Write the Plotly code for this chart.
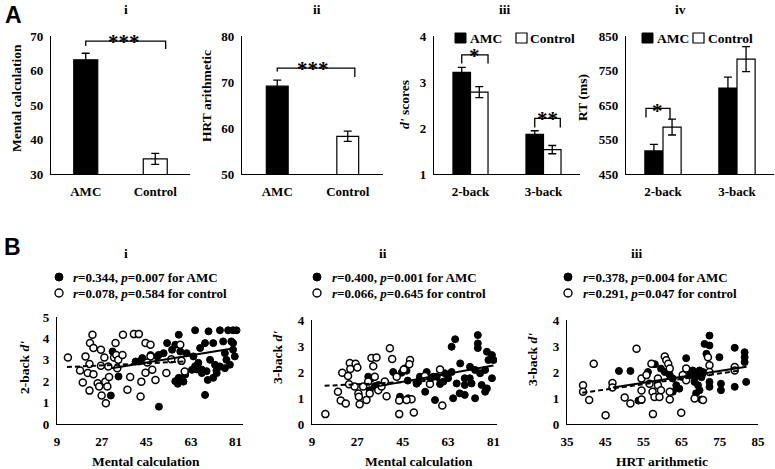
import plotly.graph_objects as go

W, H = 775, 469
def px(x): return x / W
def py(y): return 1 - y / H

SERIF = "Liberation Serif, Times New Roman, serif"
SANS = "Liberation Sans, Arial, sans-serif"

# ---------------- data ----------------
groups = ["AMC", "Control"]
tasks = ["2-back", "3-back"]
mental_calc_mean = [63.1, 34.4]
mental_calc_sem = [1.9, 1.6]
hrt_mean = [69.1, 58.2]
hrt_sem = [1.3, 1.1]
dprime_amc = [3.21, 1.86]
dprime_amc_sem = [0.11, 0.08]
dprime_ctrl = [2.78, 1.53]
dprime_ctrl_sem = [0.12, 0.09]
rt_amc = [517, 699]
rt_amc_sem = [19, 32]
rt_ctrl = [586, 783]
rt_ctrl_sem = [23, 36]

b1_amc_x = [50.1, 68.7, 58.1, 64.7, 53.4, 56.7, 70.1, 74.7, 78, 80, 81.4, 68.7, 72, 76, 79.3, 52, 58.7, 61.3, 64,
            76.7, 80, 49.4, 46.7, 66, 70.7, 72.7, 74.7, 77.3, 65.3, 69.3, 72, 76.7, 78.7, 58.1, 60.7, 56.7, 64.7,
            67.3, 73.3, 80, 80.7, 30.7, 31.4, 33.8, 40.7, 43.4, 42, 50, 57.7, 60, 55.4, 63.4, 67.4, 69.8, 73.4, 66.7]
b1_amc_y = [0.81, 1.36, 4.17, 4.38, 3.78, 3.7, 4.33, 4.38, 4.38, 4.38, 4.38, 3.78, 3.78, 3.86, 3.86, 3.31, 3.39, 3.31,
            3.16, 3.31, 3.47, 3.16, 3.22, 2.86, 3.0, 2.77, 2.69, 3.0, 2.55, 2.47, 2.16, 2.61, 2.77, 2.16, 2.31, 2.0,
            2.7, 2.55, 2.5, 3.78, 3.16, 1.33, 3.39, 2.22, 2.92, 3.08, 2.92, 3.23, 1.88, 1.98, 3.47, 2.53, 2.38, 2.06,
            2.38, 3.55]
b1_ctrl_x = [13.4, 18.3, 19.4, 20.5, 21.4, 22.1, 22.3, 23.3, 23.7, 22.1, 23.7, 25.4, 26, 26.7, 26.7, 27, 28.1, 28.5,
             28.7, 29.3, 29.7, 32, 32.6, 32.9, 33.3, 33.7, 35.4, 35.6, 37.4, 38.5, 40, 42, 43, 42.7, 44.7, 44.7, 46.7,
             46.7, 47.4, 48.7, 45.4, 53.1, 55.1, 58.7, 60.5, 59.2, 30]
b1_ctrl_y = [3.11, 2.5, 1.94, 3.16, 2.38, 2.8, 3.78, 4.17, 3.55, 1.56, 2.33, 1.9, 1.75, 3.47, 2.72, 1.33, 3.11, 1.98,
             0.97, 1.75, 2.69, 3.11, 3.78, 3.22, 2.6, 3.0, 3.22, 4.17, 1.6, 2.2, 4.2, 4.2, 1.98, 1.28, 3.78, 2.4, 3.7,
             3.16, 2.53, 2.06, 2.87, 2.38, 3.03, 3.7, 2.45, 2.95, 2.2]
b1_amc_fit_x = [31, 81]
b1_amc_fit_y = [2.6, 3.55]
b1_ctrl_fit_x = [13, 60]
b1_ctrl_fit_y = [2.66, 2.92]

b2_amc_x = [31.3, 33.9, 44.5, 46.5, 47, 43.9, 50.5, 51.8, 54.5, 53.9, 57.8, 57.2, 59.8, 61.1, 65.8, 64.4, 74.8, 74.8,
            74.8, 78.4, 80.4, 79, 81, 67.8, 71.7, 73.7, 75.7, 77.7, 64.4, 61.7, 63, 69.6, 72.3, 76.3, 78.4, 69.6, 67.6,
            65, 69.6, 73.7, 77.7, 58.5, 55, 51.2, 66.4, 80.4, 71.6, 32.6, 35.3, 41.2, 45.9, 47.2, 31.9]
b2_amc_y = [1.82, 1.44, 1.97, 2.05, 1.67, 1.05, 1.55, 1.82, 2.0, 1.24, 0.92, 1.82, 1.54, 1.63, 3.26, 2.97, 3.42, 3.1,
            2.92, 2.78, 2.65, 2.46, 2.46, 2.33, 2.2, 2.08, 1.95, 2.08, 2.0, 1.95, 1.76, 1.76, 1.56, 1.5, 1.37, 1.5, 1.18,
            0.99, 1.12, 0.99, 1.24, 1.82, 1.82, 1.63, 1.56, 1.76, 1.76, 1.76, 1.5, 2.0, 2.14, 0.99, 1.3]
b2_ctrl_x = [14.3, 19.3, 20.4, 21, 22.4, 23.3, 23.7, 24, 24.2, 26.3, 27, 27.4, 27.6, 27.9, 29.3, 30.6, 31.9, 32.6, 33.3,
             33.9, 34.6, 35.3, 36.6, 37.9, 38.6, 39.9, 40.8, 42.6, 43.6, 43.6, 45.4, 47.9, 47.6, 48.5, 49.4, 46.5, 53.8,
             55.8, 59.8, 60.7, 25.9, 31.3]
b2_ctrl_y = [0.38, 1.24, 0.9, 1.97, 0.79, 1.85, 1.53, 2.35, 2.12, 2.32, 2.17, 1.17, 1.05, 0.76, 1.44, 0.92, 1.17, 2.54,
             2.22, 1.82, 2.56, 1.3, 1.44, 1.63, 1.07, 2.91, 2.5, 1.82, 0.38, 0.9, 2.1, 2.46, 2.3, 0.95, 0.44, 0.92, 1.85,
             1.54, 2.1, 0.71, 1.44, 1.63]
b2_amc_fit_x = [31, 81]
b2_amc_fit_y = [1.38, 2.25]
b2_ctrl_fit_x = [14, 60]
b2_ctrl_fit_y = [1.47, 1.68]

b3_amc_x = [48.6, 51.6, 56.2, 59.6, 60.6, 61.9, 62.7, 63.6, 64.4, 62.7, 53.7, 54.5, 66.2, 67.9, 68.4, 68.4, 68.8, 69.3,
            69.7, 70.2, 70.6, 69.7, 68.8, 70.2, 71, 72.3, 72.3, 72.3, 72.3, 74.9, 75.3, 75.3, 78.9, 78.9, 81.5, 81.5,
            81.5, 81.9, 71.5, 65.3, 67.1, 58]
b3_amc_y = [2.04, 2.04, 2.0, 2.13, 2.0, 1.88, 1.75, 1.49, 1.36, 1.24, 0.9, 0.92, 2.53, 2.06, 1.8, 1.62, 1.94, 1.49,
            2.06, 1.8, 2.0, 1.3, 1.18, 0.94, 3.08, 3.4, 3.02, 1.62, 1.43, 2.57, 1.55, 1.3, 2.93, 1.43, 2.76, 2.57,
            2.38, 1.62, 2.7, 1.8, 1.88, 2.3]
b3_ctrl_x = [39.2, 39.2, 40.8, 42, 45.1, 46.9, 46.9, 50.1, 51.6, 53.2, 54.5, 54.5, 54.5, 55.8, 56.6, 57.1, 57.4, 57.5,
             57.9, 58.8, 58.8, 59.2, 60.6, 61, 61.5, 61.9, 61.9, 61.9, 64.9, 65.3, 66.2, 66.2, 68.4, 70.6, 71.9, 72.3,
             72.3, 78.9, 78.9, 59.6]
b3_ctrl_y = [1.49, 1.24, 0.92, 2.32, 0.34, 1.58, 1.4, 1.02, 0.79, 2.89, 1.75, 1.29, 0.94, 1.88, 1.55, 2.32, 1.24, 0.38,
             1.04, 1.75, 1.49, 1.04, 2.6, 2.45, 2.32, 2.13, 1.24, 0.94, 0.43, 1.88, 2.13, 1.68, 0.98, 0.92, 2.57, 2.26,
             2.0, 2.19, 2.06, 1.3]
b3_amc_fit_x = [47, 82]
b3_amc_fit_y = [1.4, 2.2]
b3_ctrl_fit_x = [39, 80]
b3_ctrl_fit_y = [1.2, 2.05]

# ---------------- figure ----------------
fig = go.Figure()
tickfont = dict(family=SERIF, size=13, color="black", weight="bold")
LINE = dict(color="black", width=1.2)


def err(arr):
    return dict(type="data", array=arr, color="black", thickness=1.3, width=4)

# A-i
fig.add_trace(go.Bar(x=[0, 1], y=mental_calc_mean, width=0.345, marker=dict(color=["black", "white"], line=LINE),
                     error_y=err(mental_calc_sem), xaxis="x", yaxis="y", showlegend=False))
# A-ii
fig.add_trace(go.Bar(x=[0, 1], y=hrt_mean, width=0.31, marker=dict(color=["black", "white"], line=LINE),
                     error_y=err(hrt_sem), xaxis="x2", yaxis="y2", showlegend=False))
# A-iii
fig.add_trace(go.Bar(x=[0, 1], y=dprime_amc, width=0.24, offset=-0.24, marker=dict(color="black", line=LINE),
                     error_y=err(dprime_amc_sem), xaxis="x3", yaxis="y3", showlegend=False))
fig.add_trace(go.Bar(x=[0, 1], y=dprime_ctrl, width=0.24, offset=0, marker=dict(color="white", line=LINE),
                     error_y=err(dprime_ctrl_sem), xaxis="x3", yaxis="y3", showlegend=False))
# A-iv
fig.add_trace(go.Bar(x=[0, 1], y=rt_amc, width=0.245, offset=-0.245, marker=dict(color="black", line=LINE),
                     error_y=err(rt_amc_sem), xaxis="x4", yaxis="y4", showlegend=False))
fig.add_trace(go.Bar(x=[0, 1], y=rt_ctrl, width=0.245, offset=0, marker=dict(color="white", line=LINE),
                     error_y=err(rt_ctrl_sem), xaxis="x4", yaxis="y4", showlegend=False))

# B scatter panels
for (ax, ay, cx, cy, afx, afy, cfx, cfy, xa, ya) in [
    (b1_amc_x, b1_amc_y, b1_ctrl_x, b1_ctrl_y, b1_amc_fit_x, b1_amc_fit_y, b1_ctrl_fit_x, b1_ctrl_fit_y, "x5", "y5"),
    (b2_amc_x, b2_amc_y, b2_ctrl_x, b2_ctrl_y, b2_amc_fit_x, b2_amc_fit_y, b2_ctrl_fit_x, b2_ctrl_fit_y, "x6", "y6"),
    (b3_amc_x, b3_amc_y, b3_ctrl_x, b3_ctrl_y, b3_amc_fit_x, b3_amc_fit_y, b3_ctrl_fit_x, b3_ctrl_fit_y, "x7", "y7"),
]:
    fig.add_trace(go.Scatter(x=ax, y=ay, mode="markers", xaxis=xa, yaxis=ya, showlegend=False,
                             marker=dict(size=7, color="black", line=dict(color="black", width=1))))
    fig.add_trace(go.Scatter(x=cx, y=cy, mode="markers", xaxis=xa, yaxis=ya, showlegend=False,
                             marker=dict(size=7, color="white", line=dict(color="black", width=1.5))))
    fig.add_trace(go.Scatter(x=cfx, y=cfy, mode="lines", xaxis=xa, yaxis=ya, showlegend=False,
                             line=dict(color="black", width=2, dash="5px,3px")))
    fig.add_trace(go.Scatter(x=afx, y=afy, mode="lines", xaxis=xa, yaxis=ya, showlegend=False,
                             line=dict(color="black", width=2)))


def axis(dom, rng, **kw):
    d = dict(domain=dom, range=rng, showline=True, linecolor="black", linewidth=1.2, showgrid=False,
             zeroline=False, ticks="", tickfont=tickfont, fixedrange=True, automargin=False)
    d.update(kw)
    return d

A_Y = [py(174), py(36)]
B_Y5 = [py(424), py(317)]
B_Y = [py(424), py(320)]

layout = dict(
    width=W, height=H, margin=dict(l=0, r=0, t=0, b=0, pad=0, autoexpand=False),
    paper_bgcolor="white", plot_bgcolor="white",
    barmode="overlay", showlegend=False,
    xaxis=axis([px(51), px(190)], [-0.5, 1.5], tickvals=[0, 1], ticktext=groups, anchor="y", ticklabelstandoff=5),
    yaxis=axis(A_Y, [30, 70], tickvals=[30, 40, 50, 60, 70], anchor="x", ticklabelstandoff=4),
    xaxis2=axis([px(242), px(383)], [-0.5, 1.5], tickvals=[0, 1], ticktext=groups, anchor="y2", ticklabelstandoff=5),
    yaxis2=axis(A_Y, [50, 80], tickvals=[50, 60, 70, 80], anchor="x2", ticklabelstandoff=4),
    xaxis3=axis([px(434), px(580)], [-0.5, 1.5], tickvals=[0, 1], ticktext=tasks, anchor="y3", ticklabelstandoff=5),
    yaxis3=axis(A_Y, [1, 4], tickvals=[1, 2, 3, 4], anchor="x3", ticklabelstandoff=4),
    xaxis4=axis([px(626), px(774)], [-0.5, 1.5], tickvals=[0, 1], ticktext=tasks, anchor="y4", ticklabelstandoff=5),
    yaxis4=axis(A_Y, [450, 850], tickvals=[450, 550, 650, 750, 850], anchor="x4", ticklabelstandoff=4),
    xaxis5=axis([px(57), px(243)], [9, 84], tickvals=[9, 27, 45, 63, 81], anchor="y5", ticklabelstandoff=5),
    yaxis5=axis(B_Y5, [0, 5], tickvals=[0, 1, 2, 3, 4, 5], anchor="x5", ticklabelstandoff=4),
    xaxis6=axis([px(312), px(497)], [9, 82.4], tickvals=[9, 27, 45, 63, 81], anchor="y6", ticklabelstandoff=5),
    yaxis6=axis(B_Y, [0, 4], tickvals=[0, 1, 2, 3, 4], anchor="x6", ticklabelstandoff=4),
    xaxis7=axis([px(567), px(758)], [35, 85], tickvals=[35, 45, 55, 65, 75, 85], anchor="y7", ticklabelstandoff=5),
    yaxis7=axis(B_Y, [0, 4], tickvals=[0, 1, 2, 3, 4], anchor="x7", ticklabelstandoff=4),
)
fig.update_layout(**layout)

ann = []
shapes = []


def text(x, y, t, size=12, family=SERIF, angle=0, xanchor="center", yanchor="middle", ref=("paper", "paper")):
    xx = px(x) if ref[0] == "paper" else x
    yy = py(y) if ref[1] == "paper" else y
    ann.append(dict(x=xx, y=yy, xref=ref[0], yref=ref[1], text=t, showarrow=False, textangle=angle,
                    xanchor=xanchor, yanchor=yanchor,
                    font=dict(family=family, size=size, color="black", weight="bold")))

# panel letters and titles
text(13, 15, "A", size=23, family=SANS)
text(12, 247, "B", size=23, family=SANS)
for x, t in [(126, "i"), (317, "ii"), (505, "iii"), (680, "iv")]:
    text(x, 9, t, size=13.5)
for x, t in [(126, "i"), (383, "ii"), (637, "iii")]:
    text(x, 253, t, size=13.5)

# y axis titles
text(17, 98, "Mental calculation", size=13.5, angle=-90)
text(206, 96, "HRT arithmetic", size=13.5, angle=-90)
text(404, 104, "<i>d'</i> scores", size=13.5, angle=-90)
text(583, 98, "RT (ms)", size=13.5, angle=-90)
text(24, 368, "2-back <i>d'</i>", size=13.5, angle=-90)
text(277, 358, "3-back <i>d'</i>", size=13.5, angle=-90)
text(532, 360, "3-back <i>d'</i>", size=13.5, angle=-90)
# x axis titles (B)
text(146, 461, "Mental calculation", size=13.5)
text(419, 461, "Mental calculation", size=13.5)
text(662, 461, "HRT arithmetic", size=13.5)

# bar legends (A-iii, A-iv)
for (s1, t1, s2, t2) in [(455, 468, 516, 528), (642, 655, 693, 706)]:
    shapes.append(dict(type="rect", xref="paper", yref="paper", x0=px(s1), x1=px(s1 + 11), y0=py(43), y1=py(33),
                       fillcolor="black", line=dict(color="black", width=1)))
    shapes.append(dict(type="rect", xref="paper", yref="paper", x0=px(s2), x1=px(s2 + 11), y0=py(43), y1=py(33),
                       fillcolor="white", line=dict(color="black", width=1.2)))
    text(t1, 38, "AMC", size=13.5, xanchor="left")
    text(t2, 38, "Control", size=13.5, xanchor="left")

# B legends
leg = [
    (59, 71, "<i>r</i>=0.344, <i>p</i>=0.007 for AMC", "<i>r</i>=0.078, <i>p</i>=0.584 for control"),
    (317, 330, "<i>r</i>=0.400, <i>p</i>=0.001 for AMC", "<i>r</i>=0.066, <i>p</i>=0.645 for control"),
    (568, 581, "<i>r</i>=0.378, <i>p</i>=0.004 for AMC", "<i>r</i>=0.291, <i>p</i>=0.047 for control"),
]
for cxp, tx, l1, l2 in leg:
    r = 4
    shapes.append(dict(type="circle", xref="paper", yref="paper", x0=px(cxp - r), x1=px(cxp + r),
                       y0=py(277 + r), y1=py(277 - r), fillcolor="black", line=dict(color="black", width=1)))
    shapes.append(dict(type="circle", xref="paper", yref="paper", x0=px(cxp - r), x1=px(cxp + r),
                       y0=py(293 + r), y1=py(293 - r), fillcolor="white", line=dict(color="black", width=1.4)))
    text(tx, 277, l1, size=13, xanchor="left")
    text(tx, 293, l2, size=13, xanchor="left")

# significance brackets
BR = dict(color="black", width=1.3)
brackets = [
    ("x", "y", 0, 1.15, 67.1, 68.5, 66.2, 0.55, 68.3, "***"),
    ("x2", "y2", 0, 1.1, 72.3, 73.0, 71.1, 0.5, 72.8, "***"),
    ("x3", "y3", -0.12, 0.24, 3.4, 3.59, 3.4, 0.06, 3.57, "*"),
    ("x3", "y3", 0.88, 1.23, 2.01, 2.21, 2.01, 1.055, 2.19, "**"),
    ("x4", "y4", -0.23, 0.095, 614, 640, 608, -0.07, 634, "*"),
]
for xr, yr, x0, x1, yl, yt, yrr, sx, sy, st in brackets:
    shapes.append(dict(type="path", xref=xr, yref=yr,
                       path=f"M {x0},{yl} L {x0},{yt} L {x1},{yt} L {x1},{yrr}", line=BR))
    text(sx, sy, st, size=21, ref=(xr, yr), yanchor="middle")

fig.update_layout(annotations=ann, shapes=shapes)
fig.write_html("out.html", config={"displayModeBar": False},
               post_script="document.body.style.margin='0';")
